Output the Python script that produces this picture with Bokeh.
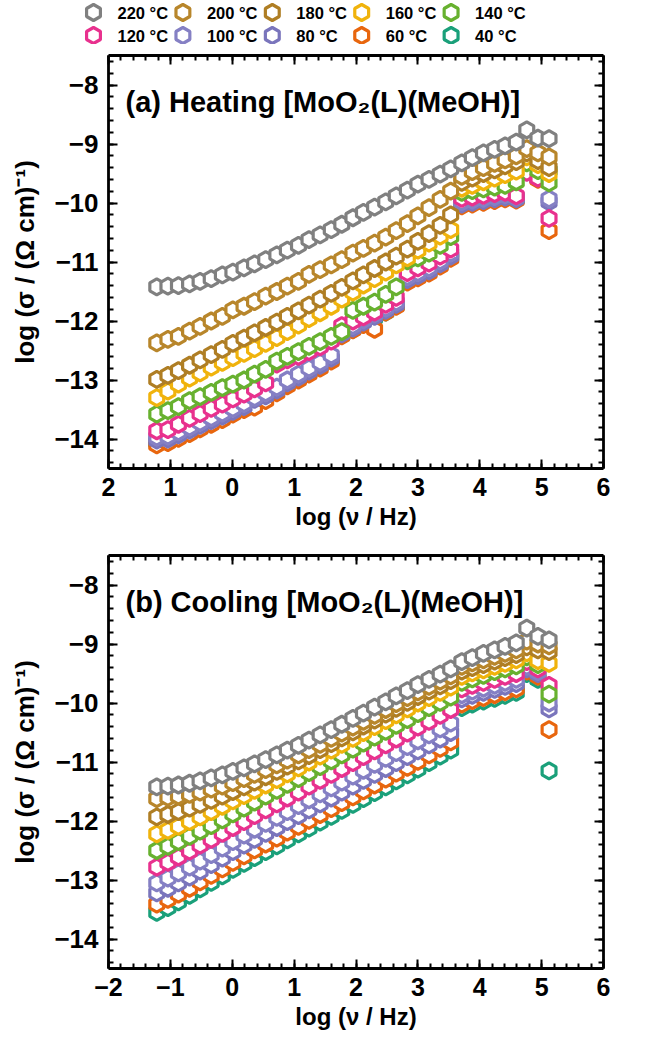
from bokeh.plotting import figure
from bokeh.models import Range1d, LinearAxis, FixedTicker, Label
from bokeh.layouts import column
from bokeh.embed import file_html
from bokeh.resources import INLINE
from bokeh.core.properties import value
import math

# ---- data: log10 of frequency (Hz) and log10 of conductivity (S/cm) ----
log_freq = [-1.22, -1.04, -0.87, -0.69, -0.52, -0.34, -0.16, 0.01, 0.19, 0.36,
            0.54, 0.72, 0.89, 1.07, 1.24, 1.42, 1.60, 1.77, 1.95, 2.12,
            2.30, 2.48, 2.65, 2.83, 3.00, 3.18, 3.36, 3.53, 3.71, 3.88,
            4.06, 4.24, 4.41, 4.59, 4.76, 4.94, 5.12]

temperatures = ["220 °C", "200 °C", "180 °C", "160 °C", "140 °C",
                "120 °C", "100 °C", "80 °C", "60 °C", "40 °C"]
colors = ["#808080", "#B8862B", "#AF7E24", "#F0B30C", "#67B12F",
          "#E8318E", "#8580C4", "#7A75BC", "#E8660E", "#1AA07A"]

heat_220 = [-11.42, -11.41, -11.40, -11.37, -11.33, -11.28, -11.22, -11.17, -11.10, -11.03, -10.96, -10.88, -10.80, -10.72, -10.62, -10.54, -10.45, -10.36, -10.25, -10.16, -10.07, -9.98, -9.88, -9.78, -9.68, -9.60, -9.51, -9.42, -9.32, -9.23, -9.15, -9.09, -9.03, -8.97, -8.76, -8.90, -8.91]
heat_200 = [-12.37, -12.31, -12.26, -12.17, -12.09, -12.00, -11.92, -11.81, -11.75, -11.67, -11.58, -11.50, -11.41, -11.33, -11.21, -11.13, -11.05, -10.96, -10.85, -10.77, -10.68, -10.58, -10.47, -10.35, -10.22, -10.08, -9.94, -9.80, -9.55, -9.47, -9.40, -9.33, -9.27, -9.20, -9.08, -9.15, -9.22]
heat_180 = [-12.99, -12.92, -12.84, -12.75, -12.66, -12.57, -12.48, -12.38, -12.29, -12.20, -12.11, -12.02, -11.92, -11.83, -11.73, -11.63, -11.53, -11.43, -11.32, -11.22, -11.11, -11.00, -10.90, -10.78, -10.65, -10.52, -10.38, -10.20, -9.65, -9.58, -9.50, -9.44, -9.37, -9.30, -9.15, -9.28, -9.40]
heat_160 = [-13.30, -13.19, -13.07, -12.97, -12.88, -12.78, -12.70, -12.62, -12.55, -12.47, -12.38, -12.28, -12.18, -12.07, -11.96, -11.86, -11.75, -11.63, -11.51, -11.39, -11.28, -11.17, -11.05, -10.93, -10.80, -10.68, -10.56, -10.45, -9.75, -9.70, -9.64, -9.58, -9.52, -9.46, -9.22, -9.35, -9.50]
heat_140 = [-13.58, -13.52, -13.45, -13.35, -13.28, -13.21, -13.13, -13.07, -13.00, -12.90, -12.82, -12.68, -12.60, -12.52, -12.43, -12.35, -12.26, -12.18, -11.82, -11.75, -11.68, -11.55, -11.42, -10.98, -10.93, -10.85, -10.72, -10.57, -9.82, -9.79, -9.76, -9.73, -9.70, -9.64, -9.32, -9.45, -9.66]
heat_120 = [-13.86, -13.84, -13.75, -13.65, -13.57, -13.48, -13.41, -13.32, -13.24, -13.15, -13.05, -12.73, -12.66, -12.60, -12.52, -12.44, -12.34, -12.08, -12.00, -11.93, -11.85, -11.72, -11.60, -11.18, -11.10, -11.02, -10.90, -10.78, -9.92, -9.90, -9.87, -9.84, -9.82, -9.88, -9.48, -9.58, -10.26]
heat_100 = [-13.97, -13.95, -13.88, -13.80, -13.72, -13.64, -13.56, -13.48, -13.40, -13.30, -13.22, -13.12, -13.00, -12.90, -12.80, -12.70, -12.58, -12.18, -12.08, -11.98, -11.88, -11.78, -11.68, -11.25, -11.18, -11.10, -10.98, -10.85, -9.98, -9.95, -9.92, -9.89, -9.86, -9.90, -9.42, -9.55, -9.93]
heat_80 = [-14.02, -14.00, -13.93, -13.85, -13.77, -13.69, -13.61, -13.53, -13.45, -13.33, -13.27, -13.17, -13.05, -12.95, -12.85, -12.75, -12.63, -12.22, -12.12, -12.02, -11.92, -11.82, -11.72, -11.30, -11.23, -11.15, -11.03, -10.90, -10.02, -9.99, -9.96, -9.93, -9.90, -9.93, -9.44, -9.57, -9.98]
heat_60 = [-14.10, -14.06, -13.99, -13.91, -13.83, -13.75, -13.67, -13.58, -13.50, -13.46, -13.35, -13.22, -13.10, -13.00, -12.90, -12.80, -12.68, -12.25, -12.15, -12.06, -12.14, -11.85, -11.75, -11.34, -11.27, -11.19, -11.07, -10.94, -10.05, -10.02, -9.99, -9.96, -9.93, -9.95, -9.46, -9.60, -10.47]
heat_40 = [-14.06, -14.03, -13.96, -13.88, -13.80, -13.72, -13.63, -13.55, -13.46, -13.36, -13.28, -13.18, -13.07, -12.97, -12.87, -12.77, -12.65, -12.24, -12.14, -12.04, -11.95, -11.85, -11.74, -11.32, -11.25, -11.17, -11.05, -10.92, -10.03, -10.00, -9.97, -9.94, -9.91, -9.92, -9.45, -9.58, -9.45]

cool_220 = [-11.42, -11.41, -11.39, -11.36, -11.32, -11.27, -11.22, -11.16, -11.10, -11.03, -10.96, -10.88, -10.80, -10.72, -10.63, -10.54, -10.45, -10.36, -10.26, -10.17, -10.07, -9.98, -9.88, -9.79, -9.69, -9.60, -9.51, -9.42, -9.30, -9.23, -9.16, -9.10, -9.04, -8.98, -8.73, -8.87, -8.93]
cool_200 = [-11.62, -11.60, -11.58, -11.55, -11.51, -11.46, -11.41, -11.35, -11.28, -11.21, -11.13, -11.05, -10.97, -10.88, -10.79, -10.70, -10.60, -10.51, -10.41, -10.31, -10.21, -10.11, -10.01, -9.91, -9.81, -9.72, -9.63, -9.54, -9.38, -9.32, -9.27, -9.21, -9.16, -9.10, -8.95, -9.00, -9.03]
cool_180 = [-11.93, -11.89, -11.84, -11.78, -11.72, -11.65, -11.58, -11.50, -11.42, -11.34, -11.25, -11.16, -11.07, -10.98, -10.89, -10.79, -10.69, -10.59, -10.49, -10.39, -10.29, -10.19, -10.09, -9.99, -9.89, -9.80, -9.71, -9.62, -9.46, -9.40, -9.35, -9.29, -9.23, -9.18, -9.05, -9.10, -9.13]
cool_160 = [-12.22, -12.16, -12.09, -12.01, -11.93, -11.84, -11.75, -11.66, -11.57, -11.48, -11.39, -11.30, -11.20, -11.10, -11.00, -10.90, -10.80, -10.70, -10.60, -10.50, -10.40, -10.30, -10.20, -10.10, -10.00, -9.91, -9.82, -9.73, -9.55, -9.49, -9.44, -9.38, -9.33, -9.27, -9.15, -9.28, -9.33]
cool_140 = [-12.50, -12.43, -12.35, -12.26, -12.17, -12.08, -11.98, -11.88, -11.78, -11.68, -11.58, -11.48, -11.38, -11.28, -11.18, -11.08, -10.98, -10.88, -10.78, -10.68, -10.58, -10.48, -10.38, -10.28, -10.18, -10.08, -9.99, -9.90, -9.65, -9.59, -9.53, -9.47, -9.42, -9.37, -9.22, -9.35, -9.85]
cool_120 = [-12.78, -12.70, -12.61, -12.51, -12.41, -12.31, -12.21, -12.11, -12.01, -11.91, -11.81, -11.71, -11.61, -11.51, -11.41, -11.31, -11.21, -11.11, -11.01, -10.91, -10.81, -10.71, -10.61, -10.51, -10.41, -10.31, -10.21, -10.11, -9.76, -9.70, -9.65, -9.60, -9.55, -9.50, -9.30, -9.42, -9.70]
cool_100 = [-13.05, -12.97, -12.88, -12.78, -12.68, -12.57, -12.46, -12.35, -12.24, -12.14, -12.04, -11.94, -11.84, -11.74, -11.64, -11.54, -11.44, -11.34, -11.24, -11.14, -11.04, -10.94, -10.84, -10.74, -10.64, -10.54, -10.44, -10.34, -9.86, -9.80, -9.75, -9.70, -9.65, -9.60, -9.38, -9.47, -10.00]
cool_80 = [-13.22, -13.14, -13.05, -12.95, -12.85, -12.74, -12.63, -12.52, -12.41, -12.31, -12.21, -12.11, -12.01, -11.91, -11.81, -11.71, -11.61, -11.51, -11.41, -11.31, -11.21, -11.11, -11.01, -10.91, -10.81, -10.71, -10.61, -10.50, -9.93, -9.87, -9.82, -9.77, -9.72, -9.67, -9.42, -9.50, -10.10]
cool_60 = [-13.41, -13.33, -13.24, -13.14, -13.03, -12.92, -12.81, -12.70, -12.59, -12.49, -12.39, -12.29, -12.19, -12.09, -11.99, -11.89, -11.79, -11.69, -11.59, -11.49, -11.39, -11.29, -11.19, -11.09, -10.99, -10.88, -10.77, -10.66, -10.02, -9.96, -9.91, -9.86, -9.81, -9.76, -9.46, -9.55, -10.45]
cool_40 = [-13.55, -13.47, -13.37, -13.26, -13.15, -13.04, -12.93, -12.82, -12.72, -12.62, -12.52, -12.42, -12.32, -12.22, -12.12, -12.02, -11.92, -11.82, -11.72, -11.62, -11.52, -11.42, -11.32, -11.22, -11.12, -11.01, -10.90, -10.80, -10.08, -10.02, -9.97, -9.92, -9.87, -9.82, -9.50, -9.60, -11.15]

heating = [heat_220, heat_200, heat_180, heat_160, heat_140,
           heat_120, heat_100, heat_80, heat_60, heat_40]
cooling = [cool_220, cool_200, cool_180, cool_160, cool_140,
           cool_120, cool_100, cool_80, cool_60, cool_40]

# axis ticks and their printed labels
x_ticks = [-2, -1, 0, 1, 2, 3, 4, 5, 6]
x_labels_heating = ["2", "1", "0", "1", "2", "3", "4", "5", "6"]
x_labels_cooling = ["\u22122", "\u22121", "0", "1", "2", "3", "4", "5", "6"]
y_ticks = [-14, -13, -12, -11, -10, -9, -8]
y_labels = ["\u221214", "\u221213", "\u221212", "\u221211", "\u221210", "\u22129", "\u22128"]

FONT = "Liberation Sans"
W = 647
HEX_SIZE = 16
HEX_LINE = 3.2


def minor(lo, hi, step):
    n = int(round((hi - lo) / step))
    return [round(lo + k * step, 3) for k in range(n + 1)]


def style_axis(ax, ticks, minors, labels=None, label_size="25px"):
    ax.ticker = FixedTicker(ticks=ticks, minor_ticks=minors)
    ax.axis_line_width = 2.8
    ax.axis_line_color = "black"
    ax.major_tick_in = 9
    ax.major_tick_out = 0
    ax.minor_tick_in = 5
    ax.minor_tick_out = 0
    ax.major_tick_line_width = 2
    ax.minor_tick_line_width = 2
    ax.major_tick_line_color = "black"
    ax.minor_tick_line_color = "black"
    if labels is None:
        # mirrored frame side: ticks only
        ax.major_label_text_color = None
        ax.major_label_text_font_size = "1px"
        ax.major_label_standoff = 0
        ax.axis_label = None
    else:
        ax.major_label_overrides = {float(t): s for t, s in zip(ticks, labels)}
        ax.major_label_text_font = FONT
        ax.major_label_text_font_style = "bold"
        ax.major_label_text_font_size = label_size
        ax.major_label_text_color = "black"
        ax.axis_label_text_font = FONT
        ax.axis_label_text_font_style = "bold"
        ax.axis_label_text_color = "black"


def make_panel(series, title, x_labels, height, border_top, border_bottom):
    p = figure(width=W, height=height, x_range=Range1d(-2, 6), y_range=Range1d(-14.5, -7.5),
               output_backend="svg", toolbar_location=None,
               min_border_left=108, min_border_right=44,
               min_border_top=border_top, min_border_bottom=border_bottom)
    p.grid.visible = False
    p.outline_line_color = None
    p.background_fill_color = "white"
    p.border_fill_color = "white"

    xm = minor(-2, 6, 0.2)
    ym = minor(-14.4, -7.6, 0.2)
    style_axis(p.xaxis[0], x_ticks, xm, x_labels, "25px")
    p.xaxis[0].axis_label = "log (\u03bd / Hz)"
    p.xaxis[0].axis_label_text_font_size = "24px"
    p.xaxis[0].major_label_standoff = 9
    p.xaxis[0].axis_label_standoff = 4
    style_axis(p.yaxis[0], y_ticks, ym, y_labels, "26px")
    p.yaxis[0].axis_label = "log (\u03c3 / (\u03a9 cm)\u207b\u00b9)"
    p.yaxis[0].axis_label_text_font_size = "26px"
    p.yaxis[0].major_label_standoff = 10
    p.yaxis[0].axis_label_standoff = 11

    top_ax = LinearAxis()
    style_axis(top_ax, x_ticks, xm)
    p.add_layout(top_ax, "above")
    right_ax = LinearAxis()
    style_axis(right_ax, y_ticks, ym)
    p.add_layout(right_ax, "right")

    # coolest series first, hottest on top
    for vals, c in reversed(list(zip(series, colors))):
        p.scatter(x=log_freq, y=vals, marker="hex", angle=math.pi / 2, size=HEX_SIZE,
                  line_color=c, line_width=HEX_LINE, fill_color="white")

    p.add_layout(Label(x=-1.725, y=-8.29, text=title, text_font=FONT,
                       text_font_style="bold", text_font_size="29px",
                       text_baseline="middle", text_color="black"))
    return p


# legend strip: two rows of five entries
LEG_H = 44
leg = figure(width=W, height=LEG_H, x_range=Range1d(0, W), y_range=Range1d(LEG_H, 0),
             output_backend="svg", toolbar_location=None, x_axis_type=None, y_axis_type=None,
             min_border_left=0, min_border_right=0, min_border_top=0, min_border_bottom=0)
leg.grid.visible = False
leg.outline_line_color = None
col_pitch = 89.4
lx = [93 + (i % 5) * col_pitch for i in range(len(temperatures))]
ly = [12 + (i // 5) * 23 for i in range(len(temperatures))]
leg.scatter(x=lx, y=ly, marker="hex", angle=math.pi / 2, size=HEX_SIZE,
            line_color=colors, line_width=HEX_LINE, fill_color="white")
leg.text(x=[v + 24 for v in lx], y=ly, text=temperatures, text_font=value(FONT),
         text_font_style="bold", text_font_size="16.5px", text_baseline="middle",
         text_align="left", text_color="black")

p1 = make_panel(heating, "(a) Heating [MoO\u2082(L)(MeOH)]", x_labels_heating,
                height=496, border_top=11, border_bottom=72)
p2 = make_panel(cooling, "(b) Cooling [MoO\u2082(L)(MeOH)]", x_labels_cooling,
                height=508, border_top=15, border_bottom=80)

layout = column(leg, column(p1, p2, spacing=0), spacing=0)
open("out.html", "w").write(file_html(layout, INLINE))
